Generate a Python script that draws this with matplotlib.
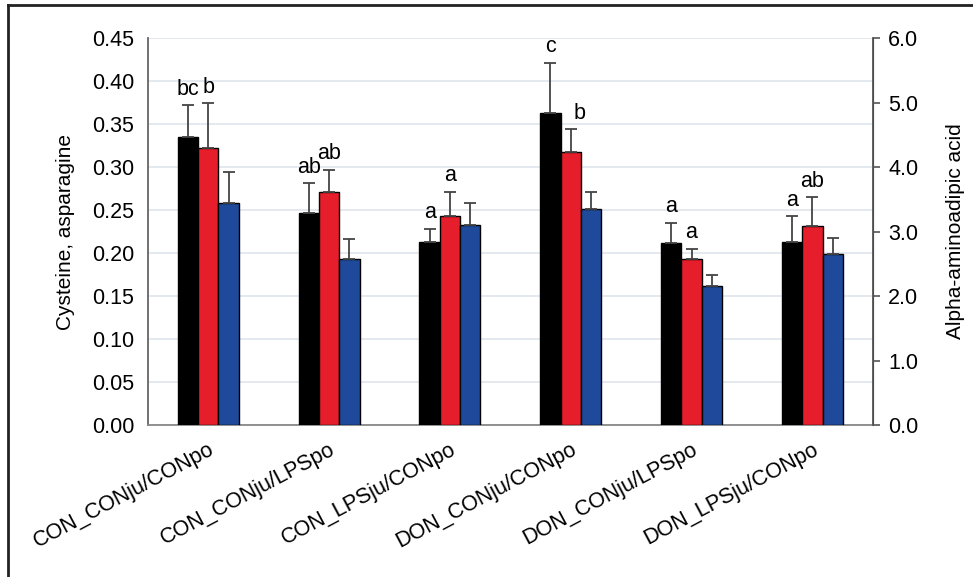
import numpy as np
import matplotlib
matplotlib.use("Agg")
import matplotlib.pyplot as plt
from matplotlib.lines import Line2D
from matplotlib.transforms import ScaledTranslation

plt.rcParams["font.family"] = ["Liberation Sans", "DejaVu Sans"]

# ── Data ────────────────────────────────────────────────────────────────────
groups = ["CON_CONju/CONpo", "CON_CONju/LPSpo", "CON_LPSju/CONpo",
          "DON_CONju/CONpo", "DON_CONju/LPSpo", "DON_LPSju/CONpo"]

# left axis (Cysteine, Asparagine)
cysteine = [0.335, 0.247, 0.213, 0.363, 0.212, 0.213]
cysteine_err = [0.037, 0.034, 0.015, 0.058, 0.023, 0.030]
asparagine = [0.322, 0.271, 0.243, 0.318, 0.193, 0.231]
asparagine_err = [0.052, 0.026, 0.028, 0.026, 0.012, 0.034]

# right axis (Alpha-aminoadipic acid)
aaa = [3.44, 2.57, 3.10, 3.35, 2.15, 2.65]
aaa_err = [0.48, 0.31, 0.34, 0.27, 0.18, 0.25]

cys_letters = ["bc", "ab", "a", "c", "a", "a"]
asn_letters = ["b", "ab", "a", "b", "a", "ab"]

BLACK = "#000000"
RED = "#e61e2b"
BLUE = "#1f4a9b"
ERR = "#444444"
FS = 15.5

# ── Figure ──────────────────────────────────────────────────────────────────
fig = plt.figure(figsize=(9.73, 5.77), dpi=100)
ax = fig.add_axes([0.152, 0.2634, 0.745, 0.6706])
ax2 = ax.twinx()

x = np.arange(len(groups))
w = 0.168
ekw = dict(ecolor=ERR, elinewidth=1.3, capsize=4, capthick=1.3)

ax.bar(x - w, cysteine, w, color=BLACK, edgecolor="black", linewidth=1,
       yerr=[np.zeros(len(x)), cysteine_err], error_kw=ekw, zorder=3)
ax.bar(x, asparagine, w, color=RED, edgecolor="black", linewidth=1,
       yerr=[np.zeros(len(x)), asparagine_err], error_kw=ekw, zorder=3)
ax2.bar(x + w, aaa, w, color=BLUE, edgecolor="black", linewidth=1,
        yerr=[np.zeros(len(x)), aaa_err], error_kw=ekw, zorder=3)

# significance letters
for i in range(len(x)):
    ax.annotate(cys_letters[i], (x[i] - w, cysteine[i] + cysteine_err[i]),
                xytext=(0, 4), textcoords="offset points",
                ha="center", va="bottom", fontsize=FS)
    dx = 6 if i == 3 else 0
    ax.annotate(asn_letters[i], (x[i], asparagine[i] + asparagine_err[i]),
                xytext=(dx, 4), textcoords="offset points",
                ha="center", va="bottom", fontsize=FS)

ax.set_xlim(-0.5, len(groups) - 0.5)
ax.set_ylim(0, 0.45)
ax.set_yticks(np.arange(0, 0.451, 0.05))
ax.set_yticklabels([f"{v:.2f}" for v in np.arange(0, 0.451, 0.05)], fontsize=FS)
ax2.set_ylim(0, 6.0)
ax2.set_yticks(np.arange(0, 6.01, 1.0))
ax2.set_yticklabels([f"{v:.1f}" for v in np.arange(0, 6.01, 1.0)], fontsize=FS)

ax.yaxis.grid(True, color="#dfe5ec", linewidth=1.2, zorder=0)
ax.set_axisbelow(True)

ax.set_xticks(x)
ax.set_xticklabels(groups, rotation=28, ha="right", va="top",
                   rotation_mode="anchor", fontsize=FS)
shift = ScaledTranslation(-6 / 72, 0, fig.dpi_scale_trans)
for lab in ax.get_xticklabels():
    lab.set_transform(lab.get_transform() + shift)
ax.tick_params(axis="x", length=0, pad=10)
ax.tick_params(axis="y", length=0, pad=10)
ax2.tick_params(axis="y", length=5, width=1.2, color="#555555", pad=6)

for a in (ax, ax2):
    a.spines["top"].set_visible(False)
ax.spines["left"].set_color("#666666")
ax.spines["left"].set_linewidth(1.3)
ax.spines["bottom"].set_color("#888888")
ax.spines["bottom"].set_linewidth(1.3)
ax2.spines["right"].set_color("#555555")
ax2.spines["right"].set_linewidth(1.3)
ax2.spines["left"].set_visible(False)
ax2.spines["bottom"].set_visible(False)

ax.set_ylabel("Cysteine, asparagine", fontsize=FS - 0.5, labelpad=12)
ax2.set_ylabel("Alpha-aminoadipic acid", fontsize=FS - 0.5, labelpad=20)

# frame lines (top and left)
fig.add_artist(Line2D([0.008, 1.0], [0.991, 0.991], transform=fig.transFigure,
                      color="#222222", linewidth=2))
fig.add_artist(Line2D([0.008, 0.008], [0.0, 0.991], transform=fig.transFigure,
                      color="#222222", linewidth=2))

fig.savefig("out.png", dpi=100)
